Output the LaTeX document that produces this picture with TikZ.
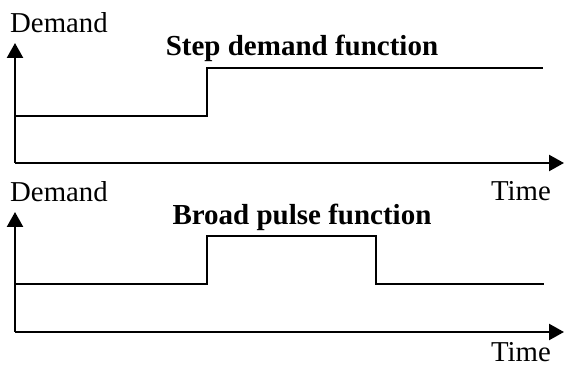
\documentclass[tikz,border=0pt]{standalone}
\usepackage{fontspec}
\setmainfont{Liberation Serif}
\usetikzlibrary{arrows.meta,positioning}
\tikzset{
  axis style/.style={-{Triangle[length=15pt,width=16pt]}, line width=2.4pt},
  sig style/.style={line width=2.2pt},
  lbl style/.style={inner sep=0pt, font=\fontsize{28.8}{34}\selectfont},
  ttl style/.style={inner sep=0pt, font=\fontsize{29}{34}\selectfont\bfseries}
}
\begin{document}
\begin{tikzpicture}[x=1pt,y=1pt]
\useasboundingbox (0,0) rectangle (565,369);
% upper plot: step
\coordinate (o1) at (15,206);
\coordinate (y1) at (15,326);
\coordinate (x1) at (564,206);
\draw[axis style] (o1) -- (y1);
\draw[axis style] (o1) -- (x1);
\coordinate (a1) at (15,253);
\coordinate (b1) at (207,253);
\coordinate (c1) at (207,301);
\coordinate (d1) at (543,301);
\draw[sig style] (a1) -- (b1) -- (c1) -- (d1);
\node[lbl style, anchor=base west] (dem1) at (10,336) {Demand};
\node[ttl style, anchor=base] (ttl1) at (302,313) {Step demand function};
% lower plot: broad pulse
\coordinate (o2) at (15,37);
\coordinate (y2) at (15,157);
\coordinate (x2) at (564,37);
\draw[axis style] (o2) -- (y2);
\draw[axis style] (o2) -- (x2);
\coordinate (a2) at (15,85);
\coordinate (b2) at (207,85);
\coordinate (c2) at (207,133);
\coordinate (d2) at (376,133);
\coordinate (e2) at (376,85);
\coordinate (f2) at (544,85);
\draw[sig style] (a2) -- (b2) -- (c2) -- (d2) -- (e2) -- (f2);
\node[lbl style, anchor=base west] (dem2) at (10,167) {Demand};
\node[lbl style, anchor=base east] (tim1) at (551,168) {Time};
\node[ttl style, anchor=base] (ttl2) at (302,144) {Broad pulse function};
\node[lbl style, anchor=base east] (tim2) at (551,7) {Time};
\end{tikzpicture}
\end{document}
